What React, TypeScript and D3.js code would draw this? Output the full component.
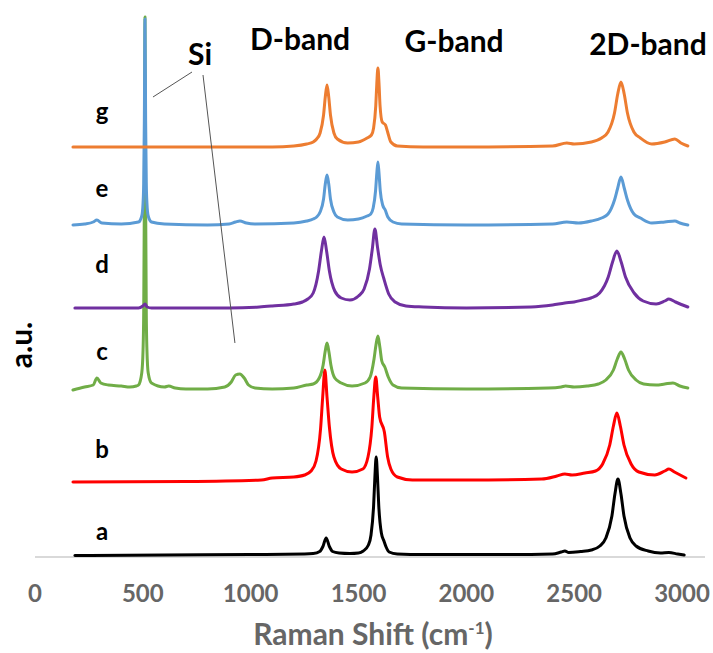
import React from "react";
import * as d3 from "d3";

const W = 713;
const H = 653;

// x tick labels (Raman shift, cm-1)
const xTicks = [0, 500, 1000, 1500, 2000, 2500, 3000];

// sample names (bottom to top) and colours
const sampleNames = ["a", "b", "c", "d", "e", "g"];
const sampleColors = ["#000000", "#FF0000", "#70AD47", "#7030A0", "#5B9BD5", "#ED7D31"];

// band labels
const bandNames = ["D-band", "G-band", "2D-band"];

// spectra: [Raman shift (cm-1), stacked intensity (a.u.)]
const spectrumA: [number, number][] = [
  [185, 1.5], [600, 2], [1000, 2.5], [1250, 3], [1290, 3.5], [1320, 5.5], [1335, 10.5], [1350, 19],
  [1365, 10.5], [1380, 5.5], [1410, 4], [1460, 3.5], [1500, 4], [1522, 6], [1546, 12], [1558, 22],
  [1570, 51], [1576, 80], [1582, 100], [1588, 80], [1594, 51], [1606, 24], [1618, 16], [1628, 10],
  [1642, 5], [1680, 3], [1800, 2.5], [2200, 2.5], [2400, 3], [2440, 5], [2457, 6], [2475, 4.5],
  [2530, 5.5], [2580, 7], [2619, 11], [2647, 19], [2675, 41], [2689, 63], [2703, 78], [2717, 63],
  [2731, 41], [2759, 19], [2787, 11], [2843, 6], [2900, 4], [2939, 4.5], [2980, 3], [3010, 2],
];

const spectrumB: [number, number][] = [
  [176, 75], [700, 75.5], [1050, 77], [1100, 79], [1200, 80], [1250, 82], [1280, 86], [1303, 96],
  [1324, 128], [1334, 160], [1344, 187], [1354, 160], [1365, 130], [1386, 100], [1420, 88],
  [1470, 85], [1520, 88], [1544, 100], [1562, 130], [1571, 160], [1580, 180], [1589, 160],
  [1598, 140], [1620, 125], [1635, 100], [1650, 88], [1680, 80], [1750, 77], [2000, 77],
  [2350, 78], [2420, 81], [2457, 83], [2490, 82], [2550, 84], [2599, 86], [2632, 93], [2665, 112],
  [2682, 131], [2698, 144], [2714, 131], [2731, 112], [2764, 93], [2800, 85], [2874, 82],
  [2920, 86], [2939, 88], [2965, 85], [3018, 79],
];

const spectrumC: [number, number][] = [
  [176, 167], [230, 170], [270, 172], [287, 179], [305, 174], [340, 172], [400, 171], [440, 170],
  [470, 171], [480, 172], [495, 184], [501, 207], [504, 244], [507, 355], [510, 540], [513, 355],
  [516, 244], [519, 207], [525, 184], [540, 174], [600, 170], [620, 171], [650, 169], [700, 168],
  [800, 168], [880, 170], [910, 175], [930, 182], [950, 183], [970, 179], [990, 172], [1020, 169],
  [1100, 168], [1200, 169], [1260, 172], [1290, 173], [1318, 179], [1336, 192], [1345, 205],
  [1354, 214], [1363, 205], [1372, 192], [1390, 179], [1420, 174], [1470, 171], [1530, 174],
  [1554, 180], [1572, 198], [1581, 212], [1590, 221], [1599, 210], [1608, 196], [1622, 190],
  [1638, 180], [1660, 172], [1700, 169], [2000, 168], [2380, 169], [2440, 170], [2460, 171],
  [2500, 170], [2560, 171], [2612, 173], [2647, 177], [2682, 187], [2700, 198], [2717, 205],
  [2734, 198], [2752, 187], [2787, 177], [2822, 173], [2880, 172], [2920, 173], [2958, 174],
  [2990, 171], [3027, 169],
];

const spectrumD: [number, number][] = [
  [185, 249], [480, 249], [500, 251], [510, 253], [520, 250], [540, 249], [900, 249], [1040, 250],
  [1100, 251], [1200, 253], [1240, 255], [1265, 258], [1290, 264], [1315, 286], [1328, 306],
  [1340, 320], [1352, 306], [1365, 286], [1390, 266], [1420, 259], [1460, 257], [1500, 261],
  [1526, 268], [1551, 288], [1564, 308], [1576, 328], [1588, 310], [1601, 292], [1618, 278],
  [1640, 263], [1670, 255], [1720, 251], [1800, 250], [2000, 249], [2300, 250], [2400, 252],
  [2457, 254], [2500, 255], [2540, 257], [2578, 259], [2618, 264], [2658, 280], [2678, 295],
  [2698, 306], [2718, 295], [2738, 280], [2778, 264], [2820, 256], [2880, 253], [2920, 256],
  [2939, 258], [2970, 255], [3027, 250],
];

const spectrumE: [number, number][] = [
  [176, 332], [230, 333], [270, 335], [287, 337], [310, 334], [400, 333], [480, 335], [495, 341],
  [501, 354], [504, 374], [507, 436], [510, 538], [513, 436], [516, 374], [519, 354], [525, 341],
  [540, 335], [600, 333], [800, 332], [900, 333], [930, 335], [950, 336], [980, 334], [1020, 333],
  [1200, 334], [1260, 336], [1290, 338], [1306, 340], [1322, 345], [1338, 358], [1346, 373],
  [1354, 382], [1362, 373], [1370, 358], [1386, 345], [1402, 340], [1450, 337], [1500, 338],
  [1540, 341], [1557, 343], [1568, 349], [1579, 366], [1585, 384], [1590, 395], [1595, 384],
  [1601, 366], [1612, 352], [1624, 347], [1636, 340], [1660, 335], [1700, 333], [2000, 332],
  [2400, 333], [2466, 335], [2520, 334], [2580, 336], [2627, 339], [2657, 343], [2687, 357],
  [2702, 369], [2717, 380], [2732, 369], [2747, 357], [2777, 343], [2807, 339], [2860, 334],
  [2920, 335], [2967, 336], [2990, 334], [3027, 332],
];

const spectrumG: [number, number][] = [
  [176, 410], [800, 410], [1100, 410], [1200, 411], [1260, 413], [1290, 415], [1306, 418],
  [1322, 424], [1338, 442], [1346, 460], [1354, 472], [1362, 460], [1370, 442], [1386, 424],
  [1402, 418], [1450, 414], [1500, 415], [1540, 419], [1560, 422], [1570, 429], [1580, 451],
  [1585, 474], [1590, 489], [1595, 474], [1600, 451], [1610, 435], [1625, 432], [1635, 425],
  [1650, 415], [1680, 411], [1800, 410], [2000, 410], [2400, 411], [2466, 414], [2500, 413],
  [2580, 415], [2627, 419], [2657, 425], [2687, 444], [2702, 463], [2717, 475], [2732, 463],
  [2747, 444], [2777, 425], [2807, 419], [2860, 413], [2920, 415], [2967, 418], [2995, 414],
  [3027, 411],
];

const spectra = [spectrumA, spectrumB, spectrumC, spectrumD, spectrumE, spectrumG];

// vertical position (a.u.) of each sample label's baseline
const sampleLabelLevels = [17, 99, 197, 284, 360, 437];

const FONT = "Lato, 'Open Sans', sans-serif";

export default function App() {
  const x = d3.scaleLinear().domain([0, 3000]).range([35, 682]);
  const y = d3.scaleLinear().domain([0, 540]).range([557, 17]);
  const line = d3
    .line<[number, number]>()
    .x((d) => x(d[0]))
    .y((d) => y(d[1]))
    .curve(d3.curveMonotoneX);

  return (
    <div style={{ position: "absolute", left: 0, top: 0 }}>
      <svg width={W} height={H} style={{ display: "block", background: "#fff" }}>
        {/* baseline axis */}
        <line x1={x(0)} x2={705} y1={y(0)} y2={y(0)} stroke="#d9d9d9" strokeWidth={2} />

        {/* tick labels */}
        {xTicks.map((t) => (
          <text
            key={t}
            x={x(t)}
            y={602}
            textAnchor="middle"
            fontFamily={FONT}
            fontWeight="bold"
            fontSize={24}
            fill="#666666"
          >
            {t}
          </text>
        ))}

        {/* axis title */}
        <text x={373} y={645} textAnchor="middle" fontFamily={FONT} fontWeight="bold" fontSize={30} fill="#666666">
          Raman Shift (cm
          <tspan dy={-11} fontSize={17}>-1</tspan>
          <tspan dy={11}>)</tspan>
        </text>

        <text
          transform={`translate(32,345) rotate(-90)`}
          textAnchor="middle"
          fontFamily={FONT}
          fontWeight="bold"
          fontSize={30}
          fill="#000"
        >
          a.u.
        </text>

        {/* spectra */}
        {spectra.map((s, i) => (
          <path
            key={sampleNames[i]}
            d={line(s) || ""}
            fill="none"
            stroke={sampleColors[i]}
            strokeWidth={3}
            strokeLinejoin="round"
            strokeLinecap="round"
          />
        ))}

        {/* sample labels */}
        {sampleNames.map((n, i) => (
          <text
            key={n}
            x={102}
            y={y(sampleLabelLevels[i])}
            textAnchor="middle"
            fontFamily={FONT}
            fontWeight="bold"
            fontSize={24}
            fill="#000"
          >
            {n}
          </text>
        ))}

        {/* Si annotation */}
        <line x1={x(728)} y1={y(485)} x2={x(547)} y2={y(460)} stroke="#555" strokeWidth={1} />
        <line x1={x(779)} y1={y(482)} x2={x(927)} y2={y(214)} stroke="#555" strokeWidth={1} />
        <text x={200} y={65} textAnchor="middle" fontFamily={FONT} fontWeight="bold" fontSize={30} fill="#000">
          Si
        </text>

        {/* band labels */}
        <text x={300} y={50} textAnchor="middle" fontFamily={FONT} fontWeight="bold" fontSize={30} fill="#000">
          {bandNames[0]}
        </text>
        <text x={454} y={52} textAnchor="middle" fontFamily={FONT} fontWeight="bold" fontSize={30} fill="#000">
          {bandNames[1]}
        </text>
        <text x={648} y={55} textAnchor="middle" fontFamily={FONT} fontWeight="bold" fontSize={30} fill="#000">
          {bandNames[2]}
        </text>
      </svg>
    </div>
  );
}
